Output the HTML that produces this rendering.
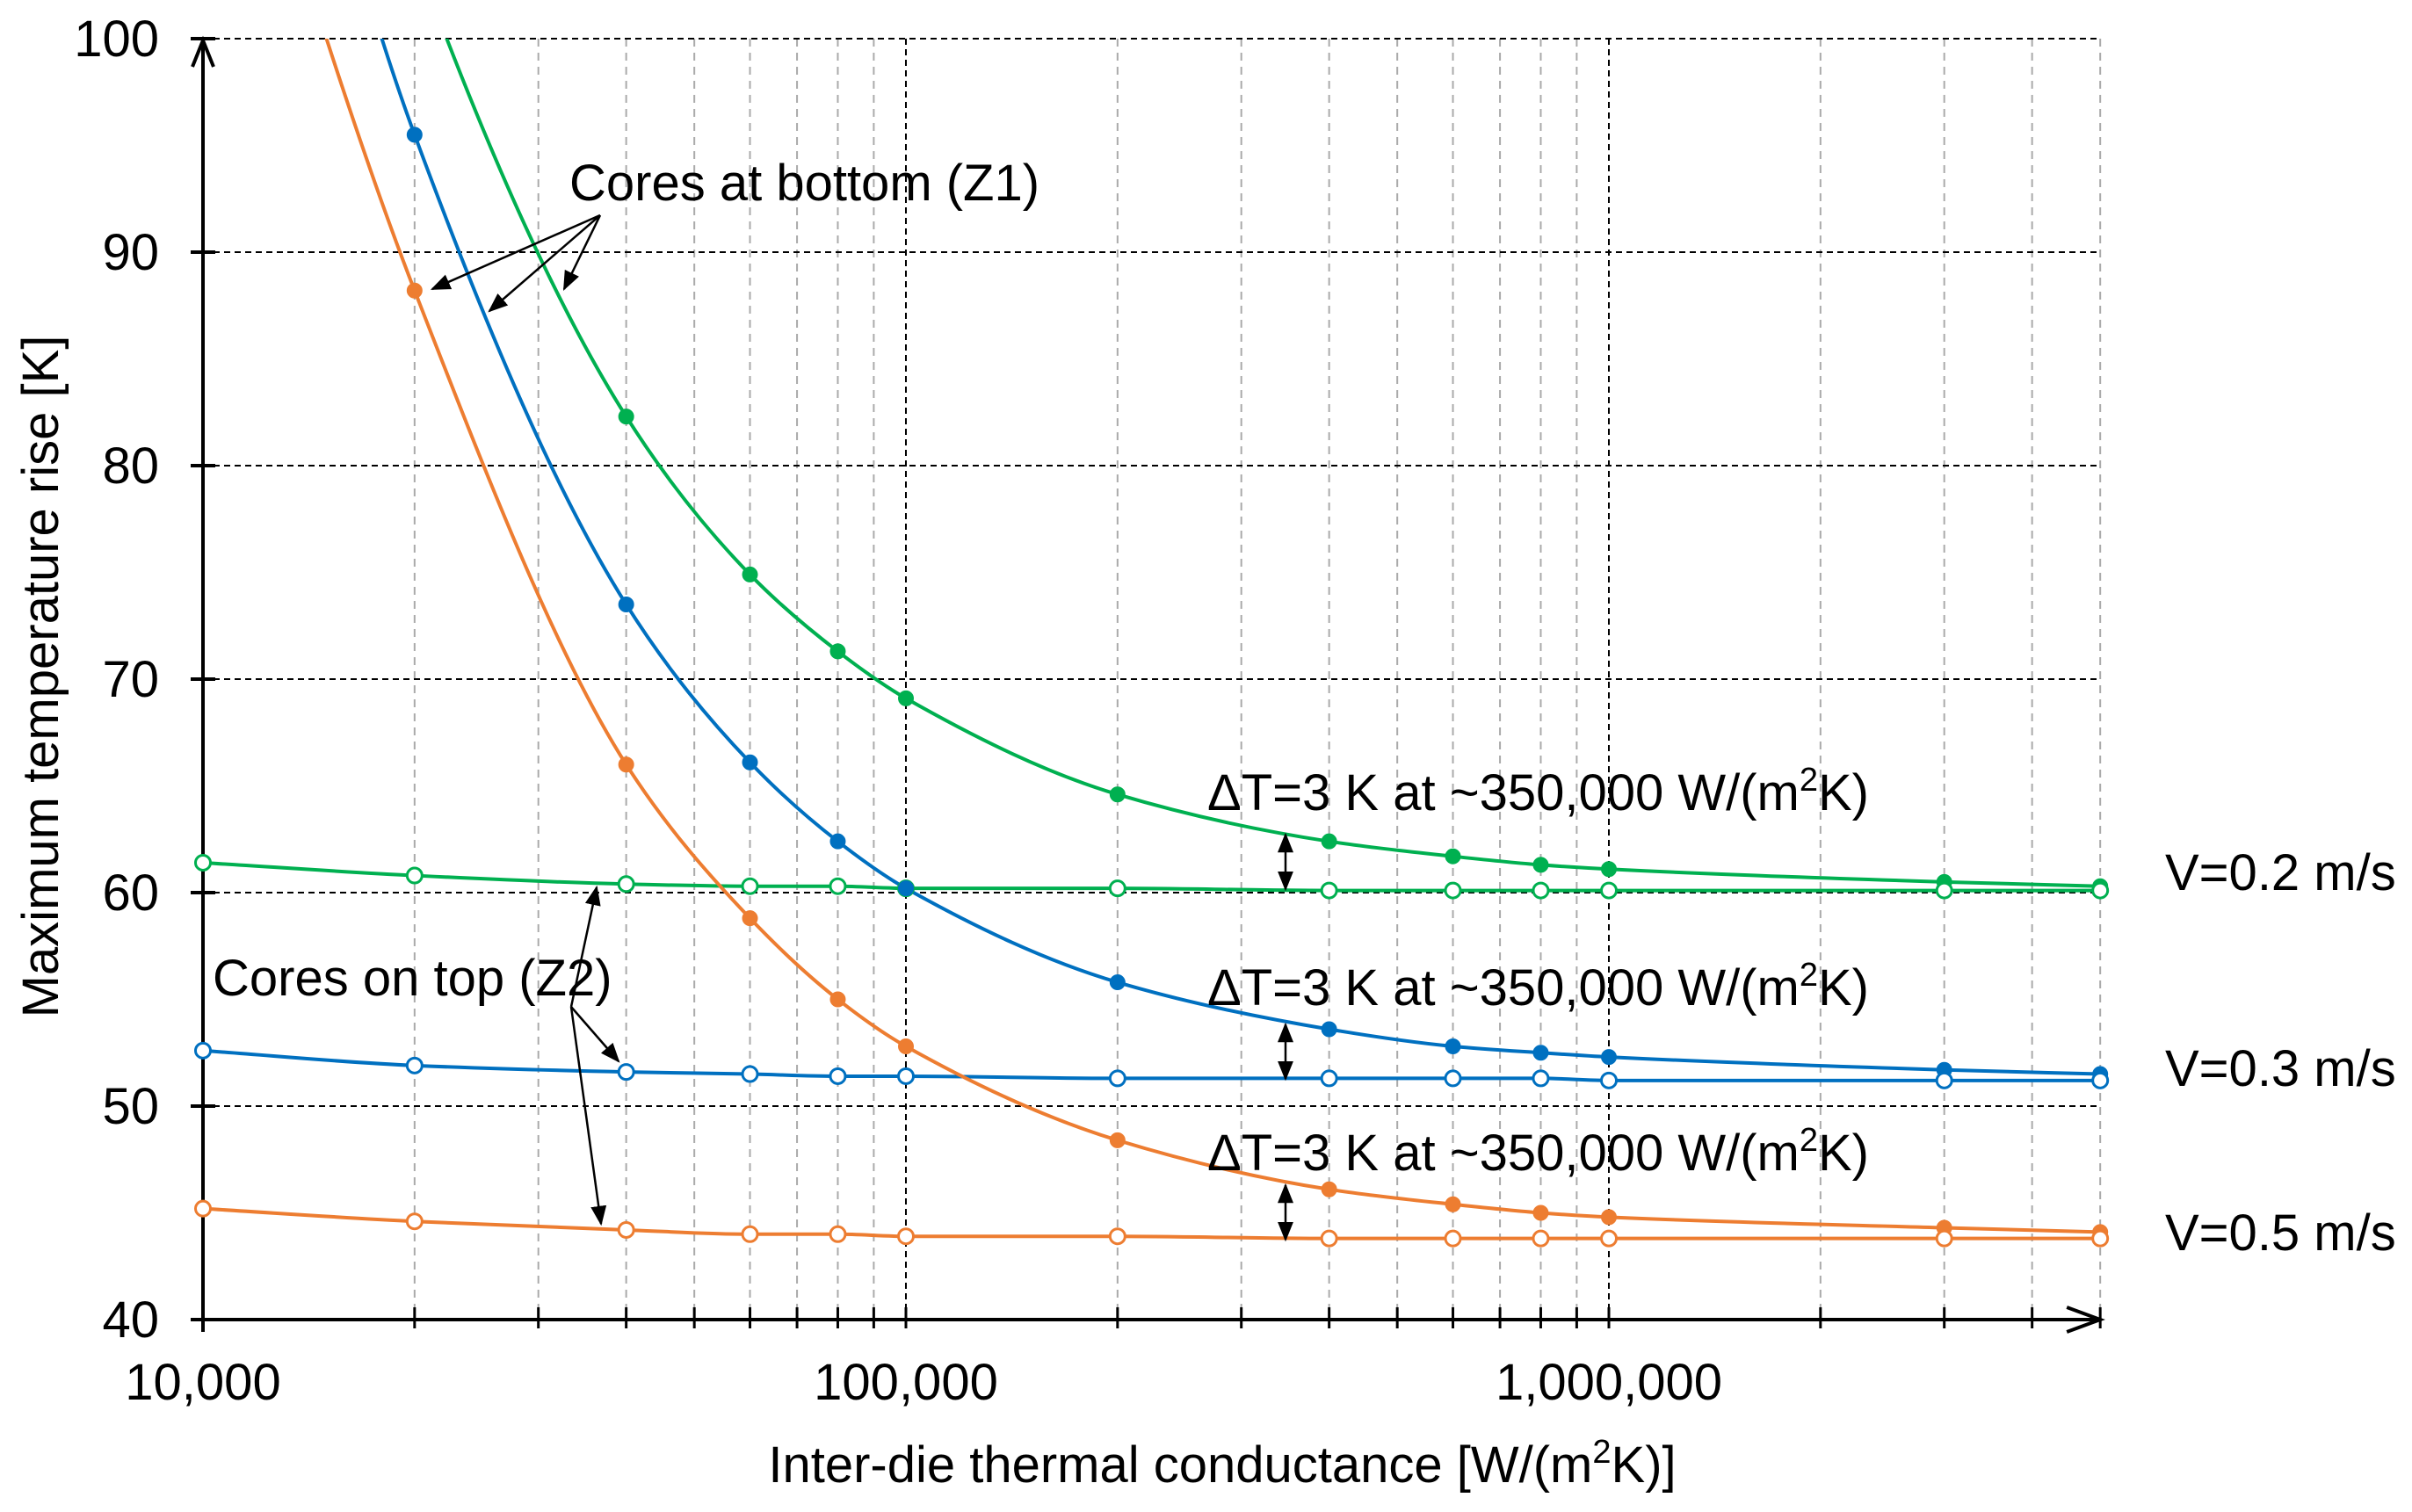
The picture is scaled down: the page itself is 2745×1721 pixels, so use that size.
<!DOCTYPE html>
<html><head><meta charset="utf-8"><style>
html,body{margin:0;padding:0;background:#fff}
svg{display:block;font-family:"Liberation Sans",Arial,sans-serif}
</style></head><body>
<svg id="chart" width="2745" height="1721" viewBox="0 0 2745 1721" xmlns="http://www.w3.org/2000/svg">
<defs>
<clipPath id="plotclip"><rect x="225" y="44" width="2180" height="1462"/></clipPath>
<marker id="ah" viewBox="0 0 10 10" refX="9" refY="5" markerWidth="9" markerHeight="9" orient="auto-start-reverse"><path d="M0,1 L10,5 L0,9 z" fill="#000"/></marker>
</defs>
<g id="grid"></g>
<g id="axes"></g>
<g id="series" clip-path="url(#plotclip)"></g>
<g id="markers"></g>
<g id="annot"></g>
</svg>
<script>
const xValues=[10000,20000,40000,60000,80000,100000,200000,400000,600000,800000,1000000,3000000,5000000];
const greenBottom=[140,104,82.3,74.9,71.3,69.1,64.6,62.4,61.7,61.3,61.1,60.5,60.3];
const greenTop=[61.4,60.8,60.4,60.3,60.3,60.2,60.2,60.1,60.1,60.1,60.1,60.1,60.1];
const blueBottom=[130,95.5,73.5,66.1,62.4,60.2,55.8,53.6,52.8,52.5,52.3,51.7,51.5];
const blueTop=[52.6,51.9,51.6,51.5,51.4,51.4,51.3,51.3,51.3,51.3,51.2,51.2,51.2];
const orangeBottom=[118,88.2,66.0,58.8,55.0,52.8,48.4,46.1,45.4,45.0,44.8,44.3,44.1];
const orangeTop=[45.2,44.6,44.2,44.0,44.0,43.9,43.9,43.8,43.8,43.8,43.8,43.8,43.8];
const yTicks=[40,50,60,70,80,90,100];
const xTickLabels=["10,000","100,000","1,000,000"];
const xTickValues=[10000,100000,1000000];

const NS="http://www.w3.org/2000/svg";
const X0=231,DEC=800,Y0=1502,YK=24.3;
const FS=58;
function xs(v){return X0+DEC*Math.log10(v/10000);}
function ys(v){return Y0-(v-40)*YK;}
function mk(tag,attrs,parent,text){const e=document.createElementNS(NS,tag);for(const k in attrs)e.setAttribute(k,attrs[k]);if(text!==undefined)e.textContent=text;parent.appendChild(e);return e;}
const grid=document.getElementById('grid'),axes=document.getElementById('axes'),series=document.getElementById('series'),markers=document.getElementById('markers'),annot=document.getElementById('annot');
const xEnd=xs(5000000);
for(let d=10000;d<=1000000;d*=10){for(let m=1;m<=9;m++){const v=d*m;if(v>5000000||v===10000)continue;const x=xs(v);const major=(m===1);
const g=mk('line',{x1:x,y1:ys(100),x2:x,y2:Y0,stroke:major?'#000':'#aaa','stroke-width':2,'stroke-dasharray':major?'7,5':'9,7'},grid);


const t=mk('line',{x1:x,y1:Y0-14,x2:x,y2:Y0+10,stroke:'#000','stroke-width':3},axes);

}}
yTicks.forEach(v=>{const y=ys(v);
if(v>40){const g=mk('line',{x1:X0,y1:y,x2:xEnd,y2:y,stroke:'#000','stroke-width':2,'stroke-dasharray':'7,5'},grid);

}
const t=mk('line',{x1:X0-14,y1:y,x2:X0+14,y2:y,stroke:'#000','stroke-width':4},axes);


const l=mk('text',{x:181,y:y+20,'font-size':FS,'text-anchor':'end',fill:'#000'},axes,String(v));

});
xTickValues.forEach((v,i)=>{const l=mk('text',{x:xs(v),y:1593,'font-size':FS,'text-anchor':'middle',fill:'#000'},axes,xTickLabels[i]);

});
const ya=mk('path',{d:`M${X0},${Y0+14} L${X0},46 M${X0-12},76 L${X0},46 L${X0+12},76`,stroke:'#000','stroke-width':4,fill:'none'},axes);


const xa=mk('path',{d:`M${X0-14},${Y0} L${xEnd},${Y0} M${xEnd-38},${Y0-14} L${xEnd},${Y0} L${xEnd-38},${Y0+14}`,stroke:'#000','stroke-width':4,fill:'none'},axes);


const xt=mk('text',{x:1391,y:1687,'font-size':FS,'text-anchor':'middle',fill:'#000'},axes);


xt.innerHTML='Inter-die thermal conductance [W/(m<tspan dy="-22" font-size="38">2</tspan><tspan dy="22">K)]</tspan>';
const yt=mk('text',{x:0,y:0,'font-size':FS,'text-anchor':'middle',fill:'#000',transform:'translate(66,770) rotate(-90)'},axes,'Maximum temperature rise [K]');


function smooth(pts){const n=pts.length;const dx=[],dy=[],m=[];for(let i=0;i<n-1;i++){dx.push(pts[i+1][0]-pts[i][0]);dy.push(pts[i+1][1]-pts[i][1]);m.push(dy[i]/dx[i]);}
const t=new Array(n);t[0]=m[0];t[n-1]=m[n-2];
for(let i=1;i<n-1;i++){if(m[i-1]*m[i]<=0)t[i]=0;else{const w1=2*dx[i]+dx[i-1],w2=dx[i]+2*dx[i-1];t[i]=(w1+w2)/(w1/m[i-1]+w2/m[i]);}}
let d=`M${pts[0][0]},${pts[0][1]}`;
for(let i=0;i<n-1;i++){const h=dx[i]/3;d+=` C${pts[i][0]+h},${pts[i][1]+t[i]*h} ${pts[i+1][0]-h},${pts[i+1][1]-t[i+1]*h} ${pts[i+1][0]},${pts[i+1][1]}`;}return d;}
const defs=[[greenBottom,'#00b050',true,'green-bottom-series'],[greenTop,'#00b050',false,'green-top-series'],[blueBottom,'#0070c0',true,'blue-bottom-series'],[blueTop,'#0070c0',false,'blue-top-series'],[orangeBottom,'#ed7d31',true,'orange-bottom-series'],[orangeTop,'#ed7d31',false,'orange-top-series']];
defs.forEach(([vals,col,filled,name])=>{const pts=xValues.map((x,i)=>[xs(x),ys(vals[i])]);
const p=mk('path',{d:smooth(pts),stroke:col,'stroke-width':4,fill:'none'},series);


xValues.forEach((x,i)=>{const v=vals[i];if(v>100||v<40)return;if(filled&&i===0)return;
const c=mk('circle',{cx:xs(x),cy:ys(v),r:8.5,fill:filled?col:'#fff',stroke:col,'stroke-width':filled?1:3},markers);

});});
function arrow(x1,y1,x2,y2,both,name){const a=mk('line',{x1,y1,x2,y2,stroke:'#000','stroke-width':2.5,'marker-end':'url(#ah)'},annot);if(both)a.setAttribute('marker-start','url(#ah)');

}
const z1=mk('text',{x:648,y:228,'font-size':FS,fill:'#000'},annot,'Cores at bottom (Z1)');


arrow(683,245,492,329,false,'z1-arrow');arrow(683,245,557,354,false,'z1-arrow');arrow(683,245,642,329,false,'z1-arrow');
const z2=mk('text',{x:242,y:1133,'font-size':FS,fill:'#000'},annot,'Cores on top (Z2)');


arrow(650,1146,704,1208,false,'z2-arrow');arrow(650,1146,679,1010,false,'z2-arrow');arrow(650,1146,684,1393,false,'z2-arrow');
[[922,950,1012],[1144,1166,1228],[1332,1349,1411]].forEach(([ty,a1,a2])=>{
const t=mk('text',{x:1374,y:ty,'font-size':FS,fill:'#000'},annot);


t.innerHTML='ΔT=3 K at ~350,000 W/(m<tspan dy="-22" font-size="38">2</tspan><tspan dy="22">K)</tspan>';
arrow(1463,a1,1463,a2,true,'delta-t-arrow');});
[['V=0.2 m/s',1013],['V=0.3 m/s',1236],['V=0.5 m/s',1423]].forEach(([s,y])=>{const t=mk('text',{x:2464,y,'font-size':FS,fill:'#000'},annot,s);

});
</script>
</body></html>
